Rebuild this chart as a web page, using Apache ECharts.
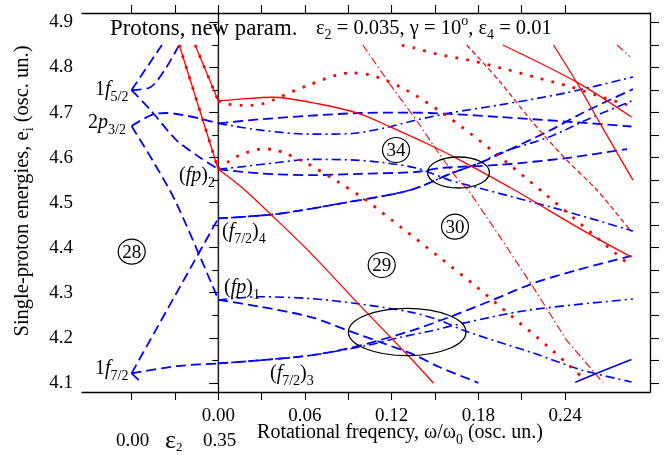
<!DOCTYPE html>
<html>
<head>
<meta charset="utf-8">
<script src="https://cdn.jsdelivr.net/npm/echarts@6/dist/echarts.min.js"></script>
<style>
  html, body { margin: 0; background: #fff; }
  #chart { width: 670px; height: 455px; }
</style>
</head>
<body>
<div id="chart"></div>
<script>
// axis ticks
const xTicks = [-0.06, -0.03, 0, 0.03, 0.06, 0.09, 0.12, 0.15, 0.18, 0.21, 0.24]
const xLabels = [0, 0.06, 0.12, 0.18, 0.24]
const yLabels = [4.1, 4.2, 4.3, 4.4, 4.5, 4.6, 4.7, 4.8, 4.9]
const yMinor = [4.15, 4.25, 4.35, 4.45, 4.55, 4.65, 4.75, 4.85]
const yAll = [4.1, 4.15, 4.2, 4.25, 4.3, 4.35, 4.4, 4.45, 4.5, 4.55, 4.6, 4.65, 4.7, 4.75, 4.8, 4.85, 4.9]

// omega = 0 marker
const zeroLine = [[0, 4.10], [0, 4.85]]

// deformation part (left of omega = 0), blue levels
const f52Up = [[-0.06, 4.750], [-0.039, 4.850]]
const f52Bend = [[-0.06, 4.750], [-0.047, 4.756], [-0.037, 4.795], [-0.027, 4.850]]
const f52Down = [[-0.06, 4.750], [-0.047, 4.706], [-0.029, 4.639], [-0.013, 4.601], [0, 4.574]]
const p32Up = [[-0.06, 4.670], [-0.046, 4.695], [-0.036, 4.699], [0, 4.676]]
const p32Down = [[-0.06, 4.670], [-0.044, 4.586], [-0.029, 4.499], [0, 4.285]]
const f72Up = [[-0.06, 4.121], [0, 4.465]]
const f72Flat = [[-0.06, 4.121], [-0.029, 4.137], [0, 4.143]]
const f72Down = [[-0.06, 4.121], [-0.053, 4.100]]
// red levels coming down from above
const redLeftA = [[-0.016, 4.850], [0, 4.726]]
const redLeftB = [[-0.027, 4.850], [0, 4.574]]

// rotating part, red
const redSolidA = [[0, 4.726], [0.015, 4.730], [0.038, 4.734], [0.070, 4.719], [0.098, 4.697], [0.119, 4.668], [0.149, 4.624], [0.167, 4.595], [0.205, 4.528], [0.252, 4.439], [0.286, 4.379]]
const redDotA = [[0, 4.726], [0.007, 4.719], [0.015, 4.716], [0.023, 4.716], [0.030, 4.719], [0.038, 4.728], [0.061, 4.759], [0.091, 4.788], [0.107, 4.782], [0.130, 4.750], [0.157, 4.695], [0.189, 4.617], [0.227, 4.517], [0.264, 4.417], [0.283, 4.366]]
const redDotB = [[0.127, 4.849], [0.135, 4.844], [0.151, 4.830], [0.174, 4.816], [0.198, 4.797], [0.221, 4.777], [0.244, 4.757], [0.268, 4.732], [0.283, 4.717]]
const redDotC = [[0, 4.574], [0.007, 4.591], [0.014, 4.604], [0.030, 4.619], [0.038, 4.618], [0.046, 4.610], [0.061, 4.588], [0.082, 4.548], [0.102, 4.506], [0.127, 4.444], [0.153, 4.379], [0.178, 4.315], [0.203, 4.248], [0.228, 4.181], [0.252, 4.112]]
const redSolidB = [[0, 4.574], [0.017, 4.532], [0.037, 4.472], [0.064, 4.388], [0.098, 4.272], [0.133, 4.155], [0.149, 4.099]]
const redDashDotA = [[0.100, 4.850], [0.119, 4.762], [0.138, 4.679], [0.151, 4.617], [0.165, 4.555], [0.173, 4.528], [0.195, 4.424], [0.218, 4.312], [0.241, 4.195], [0.266, 4.101]]
const redDashA = [[0.172, 4.850], [0.195, 4.768], [0.218, 4.677], [0.241, 4.595], [0.262, 4.528], [0.286, 4.435]]
const redDashDotB = [[0.276, 4.850], [0.285, 4.824]]
const redSolidC = [[0.197, 4.850], [0.249, 4.766], [0.286, 4.690]]
const redSolidD = [[0.232, 4.850], [0.249, 4.762], [0.264, 4.677], [0.287, 4.550]]

// rotating part, blue
const blueDashA = [[0, 4.676], [0.029, 4.685], [0.064, 4.693], [0.098, 4.699], [0.133, 4.700], [0.160, 4.697], [0.195, 4.690], [0.241, 4.680], [0.286, 4.669]]
const blueDDA = [[0, 4.676], [0.029, 4.661], [0.064, 4.652], [0.091, 4.653], [0.114, 4.665], [0.138, 4.684], [0.160, 4.699], [0.195, 4.717], [0.241, 4.744], [0.287, 4.779]]
const blueDDB = [[0, 4.574], [0.017, 4.580], [0.041, 4.589], [0.064, 4.596], [0.091, 4.595], [0.114, 4.589], [0.138, 4.576], [0.160, 4.550], [0.181, 4.532], [0.237, 4.484], [0.287, 4.437]]
const blueDashB = [[0, 4.574], [0.029, 4.565], [0.064, 4.561], [0.098, 4.564], [0.136, 4.568], [0.155, 4.577], [0.195, 4.584], [0.241, 4.599], [0.283, 4.619]]
const blueDashC = [[0, 4.465], [0.041, 4.475], [0.086, 4.499], [0.133, 4.528], [0.162, 4.566], [0.181, 4.588], [0.195, 4.608], [0.230, 4.661], [0.252, 4.699], [0.287, 4.752]]
const blueDDC = [[0, 4.465], [0.041, 4.475], [0.086, 4.499], [0.133, 4.528], [0.162, 4.566], [0.181, 4.588], [0.195, 4.610], [0.230, 4.647], [0.257, 4.687], [0.287, 4.727]]
const blueDDD = [[0, 4.284], [0.029, 4.291], [0.064, 4.287], [0.098, 4.275], [0.133, 4.257], [0.153, 4.239], [0.171, 4.215], [0.218, 4.166], [0.252, 4.128], [0.286, 4.102]]
const blueDashD = [[0, 4.284], [0.029, 4.269], [0.064, 4.246], [0.089, 4.217], [0.114, 4.188], [0.135, 4.163], [0.153, 4.135], [0.180, 4.100]]
const blueDashE = [[0, 4.143], [0.029, 4.150], [0.064, 4.161], [0.091, 4.177], [0.112, 4.195], [0.135, 4.217], [0.160, 4.246], [0.190, 4.284], [0.218, 4.321], [0.248, 4.350], [0.286, 4.382]]
const blueDDE = [[0, 4.143], [0.029, 4.150], [0.064, 4.161], [0.103, 4.183], [0.126, 4.201], [0.147, 4.215], [0.169, 4.232], [0.214, 4.261], [0.287, 4.286]]
const blueSolid = [[0.247, 4.101], [0.252, 4.108], [0.286, 4.152]]

const F = 'Liberation Serif'
const blue = '#0000ff', red = '#ff0000'
const DASH = [10, 5], DD = [9, 4, 2, 4], DOT = [2.8, 8.2], RDD = [8, 3, 1.5, 3], RDASH = [5, 3]

function curve(data, color, width, type, smooth) {
  return {
    type: 'line', data, symbol: 'none', silent: true, smooth: smooth == null ? 0.3 : smooth,
    lineStyle: { color, width, type }
  }
}

// text with sub/superscripts; cy is the centre of the normal-size glyphs
function label(x, cy, parts, S, opt) {
  opt = opt || {}
  const sub = Math.round(S * 0.7)
  const up = 8
  const d = opt.d != null ? opt.d : Math.round(S * 0.33)
  const base = { fontFamily: F, fontSize: S, lineHeight: S, padding: [up, 0, 0, 0], verticalAlign: 'top', fill: '#000' }
  const rich = {
    n: base,
    i: Object.assign({}, base, { fontStyle: 'italic' }),
    g: Object.assign({}, base, { fontSize: opt.g || S, lineHeight: opt.g || S, padding: [up + S / 2 - (opt.g || S) / 2, 0, 0, 0] }),
    s: { fontFamily: F, fontSize: sub, lineHeight: sub, padding: [up + S / 2 + d - sub / 2, 0, 0, 0], verticalAlign: 'top', fill: '#000' },
    p: { fontFamily: F, fontSize: sub, lineHeight: sub, padding: [Math.max(0, up + S / 2 - d - sub / 2), 0, 0, 0], verticalAlign: 'top', fill: '#000' }
  }
  const text = parts.map(p => '{' + p[0] + '|' + p[1] + '}').join('')
  const el = { type: 'text', z: 10, style: { text, rich, align: opt.align || 'left', verticalAlign: 'top' } }
  if (opt.rotate) {
    el.x = x - up - S / 2
    el.y = cy
    el.rotation = Math.PI / 2
  } else {
    el.x = x
    el.y = cy - up - S / 2
  }
  return el
}

function circled(cx, cy, txt) {
  return [
    { type: 'ellipse', z: 10, shape: { cx, cy, rx: 13.5, ry: 12.5 }, style: { fill: 'none', stroke: '#000', lineWidth: 1.2 } },
    { type: 'text', z: 10, x: cx, y: cy + 1, style: { text: txt, fontFamily: F, fontSize: 19, fill: '#000', align: 'center', verticalAlign: 'middle' } }
  ]
}

const xRange = { min: -0.0943, max: 0.2988 }
const yRange = { min: 4.0796, max: 4.921 }
const axisLine = { show: true, lineStyle: { color: '#000', width: 1.3 } }
const tickStyle = { color: '#000', width: 1.1 }

const chart = echarts.init(document.getElementById('chart'))
chart.setOption({
  animation: false,
  grid: { left: 82, right: 20, top: 13, bottom: 63 },
  xAxis: [
    {
      type: 'value', position: 'bottom', ...xRange, axisLine, splitLine: { show: false },
      axisTick: { customValues: xTicks, length: 8, lineStyle: tickStyle },
      axisLabel: { customValues: xLabels, formatter: v => v.toFixed(2), margin: 15, fontFamily: F, fontSize: 19, color: '#000' }
    },
    {
      type: 'value', position: 'top', ...xRange, axisLine, splitLine: { show: false },
      axisTick: { customValues: xTicks, length: 8, lineStyle: tickStyle },
      axisLabel: { show: false }
    }
  ],
  yAxis: [
    {
      type: 'value', position: 'left', ...yRange, axisLine, splitLine: { show: false },
      axisTick: { customValues: yLabels, length: 9, lineStyle: tickStyle },
      axisLabel: { customValues: yLabels, formatter: v => v.toFixed(1), margin: 9, fontFamily: F, fontSize: 19, color: '#000' }
    },
    {
      type: 'value', position: 'left', ...yRange, axisLine: { show: false }, splitLine: { show: false },
      axisTick: { customValues: yMinor, length: 6, lineStyle: tickStyle },
      axisLabel: { show: false }
    },
    {
      type: 'value', position: 'right', ...yRange, axisLine, splitLine: { show: false },
      axisTick: { customValues: yAll, length: 9, lineStyle: tickStyle },
      axisLabel: { show: false }
    }
  ],
  series: [
    curve(zeroLine, '#333', 1.2, 'solid', 0),

    curve(f52Up, blue, 1.8, DASH, 0),
    curve(f52Bend, blue, 1.8, DASH),
    curve(f52Down, blue, 1.8, DASH),
    curve(p32Up, blue, 1.8, DASH),
    curve(p32Down, blue, 1.8, DASH),
    curve(f72Up, blue, 1.8, DASH, 0),
    curve(f72Flat, blue, 1.8, DASH),
    curve(f72Down, blue, 1.8, DASH, 0),

    curve(blueDashA, blue, 1.8, DASH),
    curve(blueDDA, blue, 1.6, DD),
    curve(blueDDB, blue, 1.6, DD),
    curve(blueDashB, blue, 1.8, DASH),
    curve(blueDashC, blue, 1.8, DASH),
    curve(blueDDC, blue, 1.6, DD),
    curve(blueDDD, blue, 1.6, DD),
    curve(blueDashD, blue, 1.8, DASH),
    curve(blueDashE, blue, 1.8, DASH),
    curve(blueDDE, blue, 1.6, DD),
    curve(blueSolid, blue, 1.6, 'solid'),

    curve(redLeftA, red, 1.3, 'solid', 0),
    curve(redLeftA, red, 2.8, DOT, 0),
    curve(redLeftB, red, 1.3, 'solid', 0),
    curve(redLeftB, red, 2.8, DOT, 0),
    curve(redSolidA, red, 1.3, 'solid'),
    curve(redDotA, red, 2.8, DOT),
    curve(redDotB, red, 2.8, DOT),
    curve(redDotC, red, 2.8, DOT),
    curve(redSolidB, red, 1.3, 'solid'),
    curve(redDashDotA, red, 1.1, RDD, 0),
    curve(redDashA, red, 1.2, RDASH),
    curve(redDashDotB, red, 1.1, RDD, 0),
    curve(redSolidC, red, 1.3, 'solid'),
    curve(redSolidD, red, 1.3, 'solid')
  ],
  graphic: [
    label(110, 28.5, [['n', 'Protons, new param.']], 22.8),
    label(316, 28.5, [['n', 'ε'], ['s', '2'], ['n', ' = 0.035, γ = 10'], ['p', 'o'], ['n', ', ε'], ['s', '4'], ['n', ' = 0.01']], 20.5),
    label(400, 433, [['n', 'Rotational freqency, ω/ω'], ['s', '0'], ['n', ' (osc. un.)']], 20, { align: 'center' }),
    label(22, 191, [['n', 'Single-proton energies, e'], ['s', 'i'], ['n', ' (osc. un.)']], 20.5, { align: 'center', rotate: true }),
    label(132.5, 441, [['n', '0.00']], 19, { align: 'center' }),
    label(219.5, 441, [['n', '0.35']], 19, { align: 'center' }),
    label(165, 441, [['g', 'ε'], ['s', '2']], 19, { g: 26, d: 7 }),

    label(95, 90, [['n', '1'], ['i', 'f'], ['s', '5/2']], 20),
    label(88, 123, [['n', '2'], ['i', 'p'], ['s', '3/2']], 20),
    label(179, 176, [['n', '('], ['i', 'fp'], ['n', ')'], ['s', '2']], 20),
    label(95, 369, [['n', '1'], ['i', 'f'], ['s', '7/2']], 20),
    label(222, 232, [['n', '('], ['i', 'f'], ['s', '7/2'], ['n', ')'], ['s', '4']], 20),
    label(224, 288, [['n', '('], ['i', 'fp'], ['n', ')'], ['s', '1']], 20),
    label(270, 374, [['n', '('], ['i', 'f'], ['s', '7/2'], ['n', ')'], ['s', '3']], 20),

    ...circled(131.7, 251.7, '28'),
    ...circled(396, 150, '34'),
    ...circled(455, 226.7, '30'),
    ...circled(381.7, 265, '29'),

    { type: 'ellipse', z: 10, shape: { cx: 458.5, cy: 172.5, rx: 31, ry: 15.5 }, style: { fill: 'none', stroke: '#000', lineWidth: 1.3 } },
    { type: 'ellipse', z: 10, shape: { cx: 407.2, cy: 332, rx: 58.8, ry: 23.7 }, style: { fill: 'none', stroke: '#000', lineWidth: 1.3 } }
  ]
})
</script>
</body>
</html>
